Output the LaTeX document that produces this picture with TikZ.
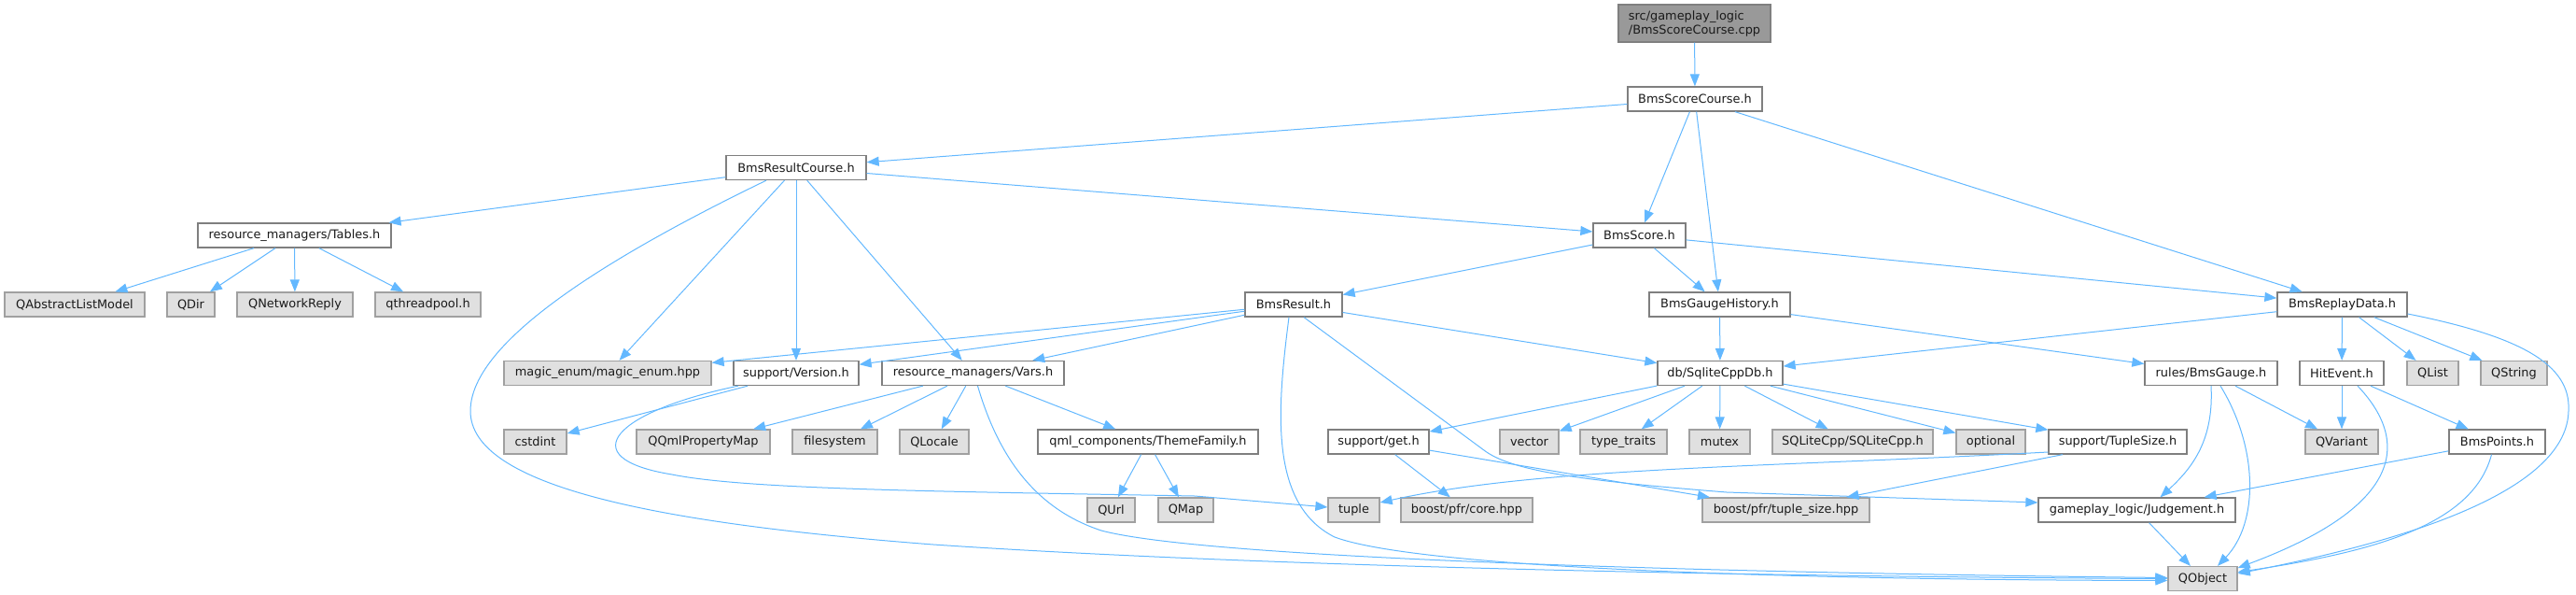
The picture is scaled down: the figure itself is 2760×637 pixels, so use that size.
\documentclass[tikz,border=0pt]{standalone}
\usepackage{fontspec}
\setmainfont{DejaVu Sans}
\usetikzlibrary{arrows.meta}
\definecolor{edgecol}{HTML}{63B8FF}
\definecolor{wborder}{HTML}{7F7F7F}
\definecolor{gfill}{HTML}{E0E0E0}
\definecolor{gborder}{HTML}{A0A0A0}
\definecolor{cppfill}{HTML}{999999}
\definecolor{txt}{HTML}{1A1A1A}
\tikzset{
  base/.style={rectangle, inner sep=0pt, minimum height=26pt, line width=1.3pt, text=txt, font=\fontsize{12.9pt}{15pt}\selectfont},
  wbox/.style={base, draw=wborder, fill=white},
  gbox/.style={base, draw=gborder, fill=gfill},
  cppbox/.style={base, draw=wborder, fill=cppfill, minimum height=40pt, align=left},
  edge/.style={draw=edgecol, line width=1pt, -{Triangle[length=13pt,width=10pt]}}
}
\begin{document}
\begin{tikzpicture}[x=1pt, y=-1pt]
\useasboundingbox (0,0) rectangle (2760,637);
% row 0
\node[cppbox, minimum width=163pt] (cpp) at (1815.5,25) {src/gameplay\_logic\\/BmsScoreCourse.cpp};
% row 1
\node[wbox, minimum width=144pt] (bsc) at (1816,106) {BmsScoreCourse.h};
% row 2
\node[wbox, minimum width=150pt] (brc) at (853,179.5) {BmsResultCourse.h};
% row 3
\node[wbox, minimum width=207pt] (tables) at (315.5,252) {resource\_managers/Tables.h};
\node[wbox, minimum width=99pt] (bscore) at (1756.5,252) {BmsScore.h};
% row 4
\node[gbox, minimum width=150pt] (qalm) at (80,326) {QAbstractListModel};
\node[gbox, minimum width=51pt] (qdir) at (204.5,326) {QDir};
\node[gbox, minimum width=124pt] (qnet) at (316,326) {QNetworkReply};
\node[gbox, minimum width=113pt] (qthr) at (458.5,326) {qthreadpool.h};
\node[wbox, minimum width=104pt] (bresult) at (1386,326) {BmsResult.h};
\node[wbox, minimum width=151pt] (bgh) at (1842.5,326) {BmsGaugeHistory.h};
\node[wbox, minimum width=139pt] (brd) at (2509.5,326) {BmsReplayData.h};
% row 5
\node[gbox, minimum width=222pt] (magic) at (651,399.5) {magic\_enum/magic\_enum.hpp};
\node[wbox, minimum width=134pt] (version) at (853,399.5) {support/Version.h};
\node[wbox, minimum width=195pt] (vars) at (1042.5,399.5) {resource\_managers/Vars.h};
\node[wbox, minimum width=134pt] (sqlite) at (1843,399.5) {db/SqliteCppDb.h};
\node[wbox, minimum width=142pt] (rgauge) at (2369,399.5) {rules/BmsGauge.h};
\node[wbox, minimum width=90pt] (hit) at (2509,399.5) {HitEvent.h};
\node[gbox, minimum width=55pt] (qlist) at (2606.5,399.5) {QList};
\node[gbox, minimum width=71pt] (qstring) at (2693.5,399.5) {QString};
% row 6
\node[gbox, minimum width=67pt] (cstdint) at (573.5,473) {cstdint};
\node[gbox, minimum width=143pt] (qqml) at (753.5,473) {QQmlPropertyMap};
\node[gbox, minimum width=91pt] (fs) at (894.5,473) {filesystem};
\node[gbox, minimum width=74pt] (qloc) at (1001,473) {QLocale};
\node[wbox, minimum width=236pt] (theme) at (1230,473) {qml\_components/ThemeFamily.h};
\node[wbox, minimum width=108pt] (get) at (1477,473) {support/get.h};
\node[gbox, minimum width=63pt] (vector) at (1638.5,473) {vector};
\node[gbox, minimum width=93pt] (tt) at (1739.5,473) {type\_traits};
\node[gbox, minimum width=65pt] (mutex) at (1842.5,473) {mutex};
\node[gbox, minimum width=172pt] (sqlcpp) at (1985,473) {SQLiteCpp/SQLiteCpp.h};
\node[gbox, minimum width=74pt] (opt) at (2133,473) {optional};
\node[wbox, minimum width=148pt] (tsize) at (2269,473) {support/TupleSize.h};
\node[gbox, minimum width=78pt] (qvar) at (2509,473) {QVariant};
\node[wbox, minimum width=103pt] (bpts) at (2675.5,473) {BmsPoints.h};
% row 7
\node[gbox, minimum width=51pt] (qurl) at (1190.5,546) {QUrl};
\node[gbox, minimum width=59pt] (qmap) at (1270.5,546) {QMap};
\node[gbox, minimum width=55pt] (tuple) at (1450.5,546) {tuple};
\node[gbox, minimum width=141pt] (core) at (1571.5,546) {boost/pfr/core.hpp};
\node[gbox, minimum width=179pt] (tsz) at (1913.5,546) {boost/pfr/tuple\_size.hpp};
\node[wbox, minimum width=211pt] (jud) at (2289.5,546) {gameplay\_logic/Judgement.h};
% row 8
\node[gbox, minimum width=74pt] (qobj) at (2360,619.5) {QObject};

% edges
\draw[edge] (cpp) -- (bsc);
\draw[edge] (bsc) -- (brc);
\draw[edge] (bsc) -- (bscore);
\draw[edge] (bsc) -- (bgh);
\draw[edge] (bsc) -- (brd);
\draw[edge] (brc) -- (tables);
\draw[edge] (brc) -- (bscore);
\draw[edge] ([xshift=-32pt]brc.south) .. controls (600,300) and (504,380) .. (504,440)
   .. controls (504,520) and (700,560) .. (1000,583)
   .. controls (1400,610) and (2000,618) .. (qobj.west);
\draw[edge] (brc) -- (magic);
\draw[edge] (brc) -- (version);
\draw[edge] (brc) -- (vars);
\draw[edge] (tables) -- (qalm);
\draw[edge] (tables) -- (qdir);
\draw[edge] (tables) -- (qnet);
\draw[edge] (tables) -- (qthr);
\draw[edge] (bscore) -- (bresult);
\draw[edge] (bscore) -- (bgh);
\draw[edge] (bscore) -- (brd);
\draw[edge] (bresult) -- (magic);
\draw[edge] (bresult) -- (version);
\draw[edge] (bresult) -- (vars);
\draw[edge] (bresult) -- (sqlite);
\draw[edge] ([xshift=-5pt]bresult.south) .. controls (1368,440) and (1360,540) .. (1430,575)
   .. controls (1530,612) and (2000,621) .. ([yshift=-2pt]qobj.west);
\draw[edge] ([xshift=11pt]bresult.south) -- (1590,482) .. controls (1620,505) and (1700,515) .. (1850,527)
   -- ([yshift=8pt]jud.west);
\draw[edge] (bgh) -- (sqlite);
\draw[edge] (bgh) -- (rgauge);
\draw[edge] (brd) -- (sqlite);
\draw[edge] (brd) -- (hit);
\draw[edge] (brd) -- (qlist);
\draw[edge] (brd) -- (qstring);
\draw[edge] ([yshift=-10pt]brd.east) .. controls (2700,360) and (2755,390) .. (2752,440)
   .. controls (2750,520) and (2600,575) .. ([yshift=5.5pt]qobj.east);
\draw[edge] (version) -- (cstdint);
\draw[edge] ([xshift=-62pt]version.south) .. controls (660,440) and (610,490) .. (720,508)
   .. controls (800,524) and (1000,526) .. (1280,531) -- ([yshift=3pt]tuple.west);
\draw[edge] (vars) -- (qqml);
\draw[edge] (vars) -- (fs);
\draw[edge] (vars) -- (qloc);
\draw[edge] (vars) -- (theme);
\draw[edge] ([xshift=5pt]vars.south) .. controls (1070,490) and (1110,545) .. (1180,568)
   .. controls (1300,600) and (1900,614) .. ([yshift=1pt]qobj.west);
\draw[edge] (theme) -- (qurl);
\draw[edge] (theme) -- (qmap);
\draw[edge] (sqlite) -- (get);
\draw[edge] (sqlite) -- (vector);
\draw[edge] (sqlite) -- (tt);
\draw[edge] (sqlite) -- (mutex);
\draw[edge] (sqlite) -- (sqlcpp);
\draw[edge] (sqlite) -- (opt);
\draw[edge] (sqlite) -- (tsize);
\draw[edge] (get) -- (core);
\draw[edge] (get) -- (tsz);
\draw[edge] ([yshift=-11pt]tsize.west) .. controls (1900,500) and (1650,500) .. ([yshift=8pt]tuple.east);
\draw[edge] ([xshift=-59pt]tsize.south) -- ([xshift=65pt]tsz.north);
\draw[edge] (rgauge) -- (qvar);
\draw[edge] (rgauge.south) .. controls (2372,470) and (2350,500) .. ([xshift=25pt]jud.north);
\draw[edge] ([xshift=10pt]rgauge.south) .. controls (2420,480) and (2420,560) .. ([xshift=16pt]qobj.north);
\draw[edge] (hit) -- (qvar);
\draw[edge] (hit) -- (bpts);
\draw[edge] ([xshift=17pt]hit.south) .. controls (2580,470) and (2580,540) .. ([yshift=11.5pt]qobj.east);
\draw[edge] (bpts) -- (jud);
\draw[edge] ([xshift=-6pt]bpts.south) .. controls (2650,560) and (2550,590) .. ([yshift=7pt]qobj.east);
\draw[edge] (jud) -- (qobj);
\end{tikzpicture}
\end{document}
